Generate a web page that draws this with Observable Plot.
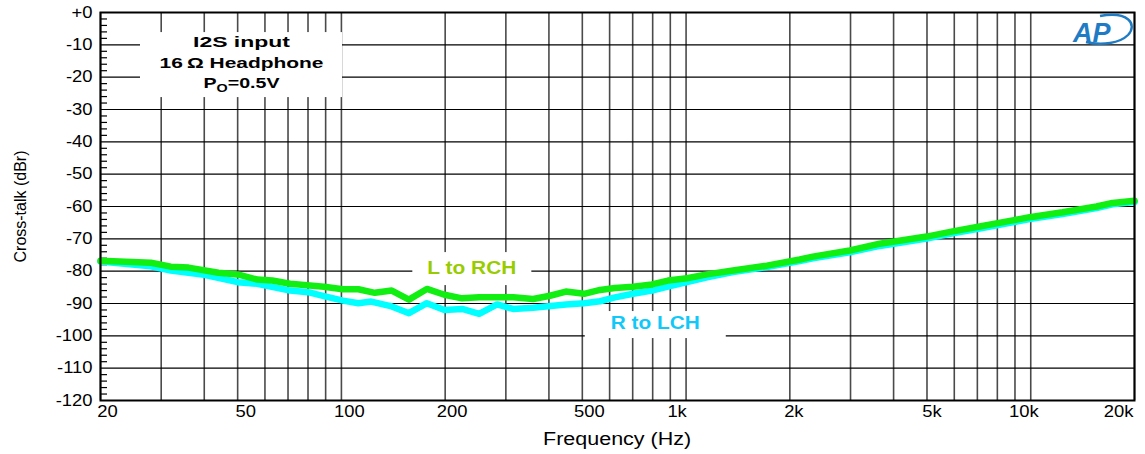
<!DOCTYPE html>
<html>
<head>
<meta charset="utf-8">
<script src="https://cdn.jsdelivr.net/npm/d3@7"></script>
<script src="https://cdn.jsdelivr.net/npm/@observablehq/plot@0.6"></script>
<style>
  html, body { margin: 0; padding: 0; background: #fff; }
  #chart svg { display: block; }
</style>
</head>
<body>
<div id="chart"></div>
<script>
// ---- data ----
const freqL = [20, 28, 32, 36, 44, 50, 57, 63, 71, 89, 101, 112, 125, 140, 157, 177, 199, 224, 251, 283, 315, 360, 403, 448, 506, 563, 622, 702, 796, 886, 1006, 1150, 1368, 1716, 2138, 2332, 2985, 3648, 4989, 5937, 7108, 8860, 9927, 12368, 15520, 17272, 20000];
const dbL = [-76.8, -77.4, -78.6, -78.9, -80.5, -81.0, -82.6, -82.9, -83.9, -84.8, -85.6, -85.6, -86.7, -86.0, -88.8, -85.5, -87.3, -88.4, -88.1, -88.1, -88.1, -88.6, -87.6, -86.3, -87.0, -85.8, -85.2, -84.8, -84.1, -82.9, -82.2, -81.0, -79.8, -78.3, -76.4, -75.5, -73.6, -71.5, -69.3, -67.7, -66.2, -64.3, -63.3, -61.8, -60.0, -58.9, -58.2];

const freqR = [20, 28, 32, 40, 50, 57, 71, 80, 89, 101, 112, 122, 140, 157, 177, 199, 224, 251, 283, 315, 360, 448, 506, 563, 622, 702, 796, 886, 1006, 1150, 1368, 1716, 2138, 2332, 2985, 3648, 4989, 5937, 7108, 8860, 9927, 12368, 15520, 17272, 20000];
const dbR = [-77.0, -78.5, -79.8, -81.1, -83.4, -83.9, -86.0, -86.5, -87.7, -89.1, -89.9, -89.4, -90.9, -93.0, -89.9, -92.0, -91.7, -93.2, -90.3, -91.7, -91.3, -90.3, -89.9, -89.3, -88.1, -87.0, -86.0, -84.8, -83.4, -81.9, -80.3, -78.7, -76.9, -76.0, -74.2, -72.2, -69.9, -68.3, -66.8, -64.9, -63.9, -62.3, -60.5, -59.3, -58.6];

const xTickValues = [20, 50, 100, 200, 500, 1000, 2000, 5000, 10000, 20000];
const xTickLabels = ["20", "50", "100", "200", "500", "1k", "2k", "5k", "10k", "20k"];
const yTickValues = [0, -10, -20, -30, -40, -50, -60, -70, -80, -90, -100, -110, -120];
const yTickLabels = ["+0", "-10", "-20", "-30", "-40", "-50", "-60", "-70", "-80", "-90", "-100", "-110", "-120"];
const xGridValues = [20, 30, 40, 50, 60, 70, 80, 90, 100, 200, 300, 400, 500, 600, 700, 800, 900, 1000, 2000, 3000, 4000, 5000, 6000, 7000, 8000, 9000, 10000, 20000];
const yMinorValues = d3.range(-118, 0, 2).filter(d => d % 10 !== 0);

const infoLines = ["I2S input", "16\u2009Ω Headphone", "PO=0.5V"];
const seriesNames = ["L to RCH", "R to LCH"];

// ---- layout / style (not data) ----
const xLabelShift = [7, 8, 8, 7, 7, -9, 4, 5, -7, -16];
const lineL = freqL.map((f, i) => ({f, v: dbL[i]}));
const lineR = freqR.map((f, i) => ({f, v: dbR[i]}));
const FONT = "'Liberation Sans', Arial, Helvetica, sans-serif";

const chart = Plot.plot({
  width: 1145,
  height: 454,
  marginLeft: 100,
  marginRight: 11,
  marginTop: 12,
  marginBottom: 54,
  style: {fontFamily: FONT, fontSize: "16px", background: "#fff", color: "#000", overflow: "visible"},
  x: {type: "log", domain: [20, 20000], axis: null},
  y: {domain: [-120, 0], axis: null},
  marks: [
    Plot.ruleX(xGridValues, {x: d => d, stroke: "#4a4a4a", strokeWidth: 1.6}),
    Plot.ruleY(yTickValues, {y: d => d, stroke: "#000", strokeWidth: 1.2}),
    Plot.axisY({ticks: yMinorValues, tickSize: -7, tickFormat: () => "", stroke: "#000", strokeWidth: 1.2, label: null}),
    Plot.axisY({ticks: yTickValues, tickSize: 0, tickPadding: 8, tickFormat: (d) => yTickLabels[yTickValues.indexOf(d)], fontSize: 16, label: null}),
    ...xTickValues.map((v, i) => Plot.text([v], {
      x: d => d, text: () => xTickLabels[i], frameAnchor: "bottom", dy: 16, dx: xLabelShift[i], fontSize: 16, fill: "#000"
    })),
    Plot.text(["Frequency (Hz)"], {frameAnchor: "bottom", dy: 44, x: () => 1000, dx: -69, fontSize: 18, fill: "#000"}),
    Plot.text(["Cross-talk (dBr)"], {x: () => 20, y: () => -60, dx: -80, rotate: -90, fontSize: 16, fill: "#000"}),
    Plot.line(lineR, {x: "f", y: "v", stroke: "#00ffff", strokeWidth: 6.5, strokeLinejoin: "round"}),
    Plot.line(lineL, {x: "f", y: "v", stroke: "#11ee11", strokeWidth: 6.5, strokeLinejoin: "round"}),
    Plot.frame({stroke: "#000", strokeWidth: 2}),
    Plot.text(infoLines, {x: () => 51.3, y: (d, i) => -9.3 - i * 6.34, fontWeight: "bold", fontSize: 15, fill: "#000"}),
    Plot.text([seriesNames[0]], {x: () => 239, y: () => -79.2, fontWeight: "bold", fontSize: 18, fill: "#99cc00"}),
    Plot.text([seriesNames[1]], {x: () => 814, y: () => -96.2, fontWeight: "bold", fontSize: 18, fill: "#11c8f8"}),
    Plot.text(["AP"], {frameAnchor: "top-right", dx: -24, dy: 10, fontWeight: "bold", fontStyle: "italic", fontSize: 27, fill: "#1f7cc4"})
  ]
});

document.getElementById("chart").append(chart);

const svg = d3.select(chart);
const sx = chart.scale("x"), sy = chart.scale("y");

// target widths for annotation texts (the reference font is wide)
const targetWidths = new Map([
  ["I2S input", 97],
  ["16\u2009Ω Headphone", 164],
  ["PO=0.5V", 76],
  ["L to RCH", 89],
  ["R to LCH", 89],
  ["Frequency (Hz)", 148]
]);

svg.selectAll("text").each(function () {
  const t = this.textContent;
  if (!t) return;
  if (t === "AP" || t === "Cross-talk (dBr)") return;
  if (targetWidths.has(t)) {
    this.setAttribute("textLength", targetWidths.get(t));
  } else {
    const len = this.getComputedTextLength();
    this.setAttribute("textLength", (len * 1.15).toFixed(1));
  }
  this.setAttribute("lengthAdjust", "spacingAndGlyphs");
});

// subscript O in PO
svg.selectAll("text").filter(function () { return this.textContent === "PO=0.5V"; }).each(function () {
  const el = d3.select(this);
  el.text(null);
  el.append("tspan").text("P");
  el.append("tspan").attr("font-size", 11).attr("dy", 4).text("O");
  el.append("tspan").attr("dy", -4).text("=0.5V");
});

// white boxes behind annotations (inserted above grid, below text)
function box(textContent, x0, x1, y0, y1) {
  const node = svg.selectAll("text").filter(function () { return this.textContent === textContent; }).node();
  if (!node) return;
  const g = node.parentNode;
  d3.select(g.parentNode).insert("rect", () => g)
    .attr("x", x0).attr("y", y0).attr("width", x1 - x0).attr("height", y1 - y0)
    .attr("fill", "#fff");
}
const cx1 = sx.apply(51.3);
box("I2S input", cx1 - 101, cx1 + 101, sy.apply(-9.3) - 10, sy.apply(-9.3 - 2 * 6.34) + 14);
const cx2 = sx.apply(239), cy2 = sy.apply(-79.2);
box("L to RCH", cx2 - 59, cx2 + 60, cy2 - 16, cy2 + 17);
const cx3 = sx.apply(814), cy3 = sy.apply(-96.2);
box("R to LCH", cx3 - 70, cx3 + 71, cy3 - 12, cy3 + 15);

// swoosh of the AP logo
const apNode = svg.selectAll("text").filter(function () { return this.textContent === "AP"; }).node();
if (apNode) {
  d3.select(apNode.parentNode.parentNode).append("path")
    .attr("d", "M1100,16 C1128,11 1138,24 1128,35 C1120,43 1102,46 1086,42")
    .attr("fill", "none").attr("stroke", "#1f7cc4").attr("stroke-width", 2.4);
}
</script>
</body>
</html>
